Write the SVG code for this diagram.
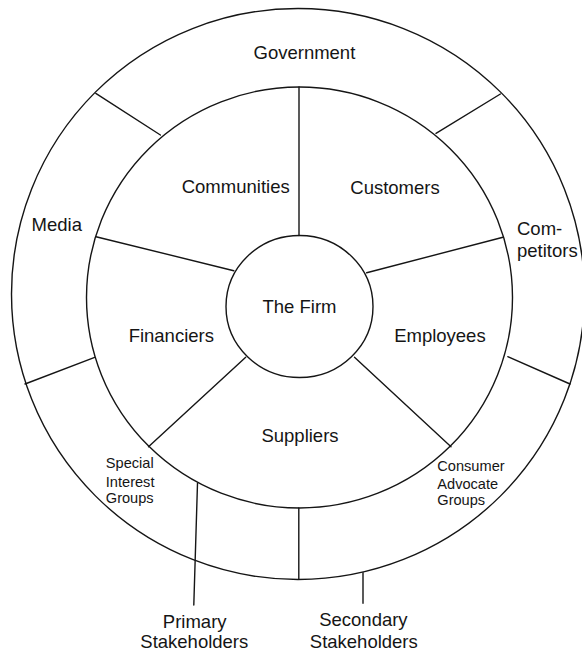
<svg xmlns="http://www.w3.org/2000/svg" width="582" height="653" viewBox="0 0 582 653">
  <style>
    .ring { fill: none; stroke: #151515; stroke-width: 1.4; }
    .line { fill: none; stroke: #151515; stroke-width: 1.4; stroke-linecap: round; }
    .lbl { font-family: "Liberation Sans", Arial, sans-serif; font-size: 18.5px; fill: #151515; }
    .sm { font-family: "Liberation Sans", Arial, sans-serif; font-size: 14.6px; fill: #151515; }
    .c { text-anchor: middle; }
  </style>
  <rect width="582" height="653" fill="#ffffff"/>

  <!-- concentric rings: secondary (outer), primary (middle) -->
  <g id="rings">
    <ellipse class="ring" cx="298" cy="294" rx="286.5" ry="285.5"/>
    <ellipse class="ring" cx="299.5" cy="297.5" rx="213" ry="210.5"/>
  </g>

  <!-- spokes dividing the rings, plus the two leader lines -->
  <g id="connectors">
    <!-- primary ring spokes -->
    <line class="line" x1="299" y1="87" x2="299" y2="235.5"/>
    <line class="line" x1="96" y1="236.7" x2="233.8" y2="270.7"/>
    <line class="line" x1="366.7" y1="272.7" x2="503" y2="237.3"/>
    <line class="line" x1="245.7" y1="357.3" x2="148.5" y2="446.7"/>
    <line class="line" x1="354.5" y1="357.3" x2="451" y2="446.7"/>
    <!-- secondary ring spokes -->
    <line class="line" x1="95.8" y1="93.3" x2="160.4" y2="135"/>
    <line class="line" x1="436" y1="133.3" x2="500.4" y2="94"/>
    <line class="line" x1="94.7" y1="357.3" x2="25" y2="384"/>
    <line class="line" x1="507.8" y1="356.7" x2="570" y2="384"/>
    <line class="line" x1="298.8" y1="508" x2="298.8" y2="579.3"/>
    <!-- leader lines to the ring captions -->
    <line class="line" x1="197.5" y1="483.3" x2="193.8" y2="605"/>
    <line class="line" x1="363" y1="572.7" x2="363" y2="603.3"/>
  </g>

  <g id="firm">
    <ellipse class="ring" cx="299.5" cy="306.5" rx="73.5" ry="71"/>
    <text class="lbl c" x="299.5" y="312.7">The Firm</text>
  </g>

  <g id="communities"><text class="lbl c" x="235.7" y="192.7">Communities</text></g>
  <g id="customers"><text class="lbl c" x="395" y="193.5">Customers</text></g>
  <g id="financiers"><text class="lbl c" x="171.3" y="341.7">Financiers</text></g>
  <g id="employees"><text class="lbl c" x="439.9" y="341.7">Employees</text></g>
  <g id="suppliers"><text class="lbl c" x="300" y="441.7">Suppliers</text></g>

  <g id="government"><text class="lbl c" x="304.4" y="59.3">Government</text></g>
  <g id="media"><text class="lbl" x="31.6" y="231">Media</text></g>
  <g id="competitors">
    <text class="lbl" x="517" y="235">Com-</text>
    <text class="lbl" x="517" y="256.7">petitors</text>
  </g>
  <g id="special-interest-groups">
    <text class="sm" x="105.8" y="468.3">Special</text>
    <text class="sm" x="105.8" y="486.5">Interest</text>
    <text class="sm" x="105.8" y="503.3">Groups</text>
  </g>
  <g id="consumer-advocate-groups">
    <text class="sm" x="437.3" y="470.5">Consumer</text>
    <text class="sm" x="437.3" y="488.8">Advocate</text>
    <text class="sm" x="437.3" y="505">Groups</text>
  </g>

  <g id="primary-stakeholders">
    <text class="lbl c" x="194.7" y="628.3">Primary</text>
    <text class="lbl c" x="194.3" y="648.3">Stakeholders</text>
  </g>
  <g id="secondary-stakeholders">
    <text class="lbl c" x="363.4" y="626">Secondary</text>
    <text class="lbl c" x="363.8" y="647.7">Stakeholders</text>
  </g>
</svg>
